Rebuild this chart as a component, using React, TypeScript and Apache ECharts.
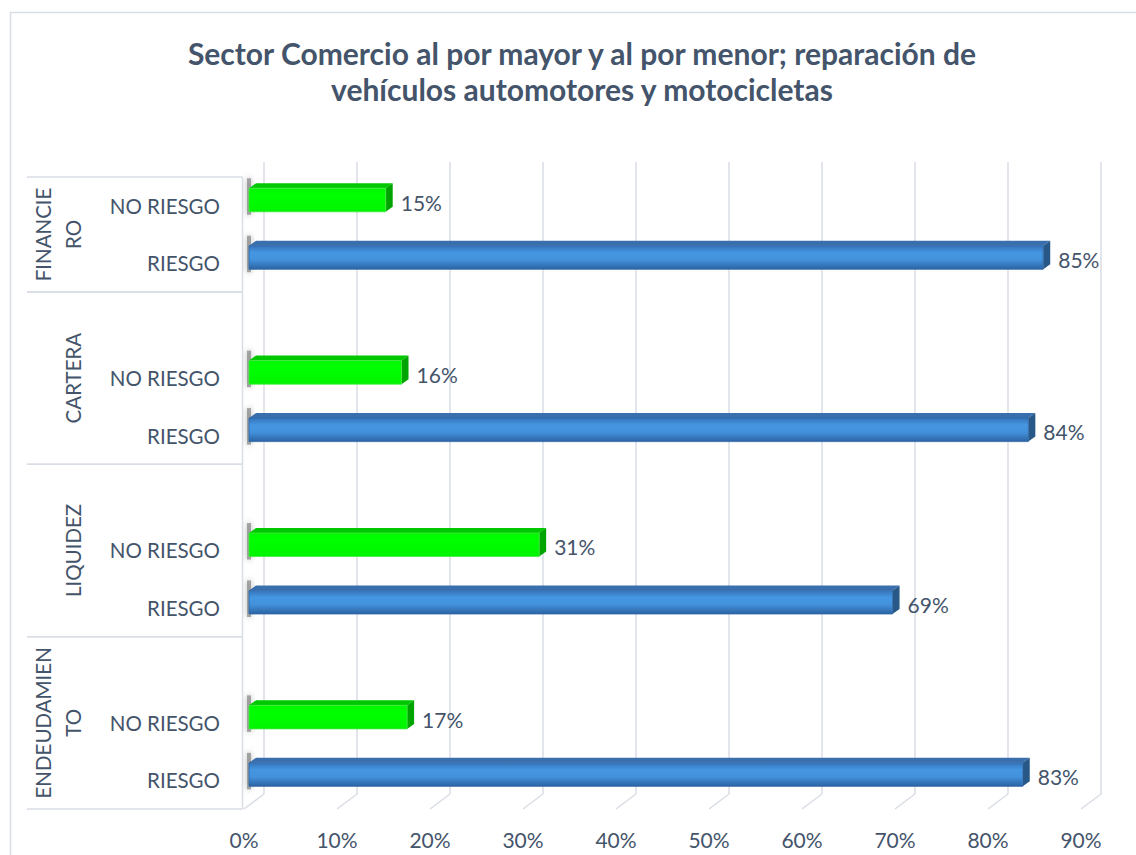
import React, { useEffect, useRef } from "react";
import * as echarts from "echarts";

const titleLines = [
  "Sector Comercio al por mayor y al por menor; reparación de",
  "vehículos automotores y motocicletas",
];
// bottom to top (as in the original category order)
const groupNames = ["ENDEUDAMIENTO", "LIQUIDEZ", "CARTERA", "FINANCIERO"];
const groupLabels = ["ENDEUDAMIEN\nTO", "LIQUIDEZ", "CARTERA", "FINANCIE\nRO"];
const riskLabels = ["RIESGO", "NO RIESGO"];
const riesgoValues = [83.2, 69.2, 83.8, 85.4];
const noRiesgoValues = [17.0, 31.2, 16.4, 14.7];
const xTickValues = [0, 10, 20, 30, 40, 50, 60, 70, 80, 90];

const TEXT = "#44546a";
const GRID = "#d9dde5";
const FONT = "Lato, 'Open Sans', sans-serif";

const categories: string[] = [];
const groupRanges: number[][] = [];
const barData: number[][] = [];
groupNames.forEach((g, gi) => {
  const start = categories.length;
  categories.push(`${g}|${riskLabels[0]}`);
  barData.push([riesgoValues[gi], start, 0]);
  categories.push(`${g}|${riskLabels[1]}`);
  barData.push([noRiesgoValues[gi], start + 1, 1]);
  if (gi < groupNames.length - 1) categories.push(`${g}|`);
  groupRanges.push([gi, start, categories.length - 1]);
});

const DX = 20; // depth of the 3D box
const DY = -15;

export default function App() {
  const ref = useRef<HTMLDivElement>(null);
  useEffect(() => {
    if (!ref.current) return;
    const chart = echarts.init(ref.current, undefined, { renderer: "svg" });

    const blueFront = new echarts.graphic.LinearGradient(0, 0, 0, 1, [
      { offset: 0, color: "#3573b8" },
      { offset: 0.3, color: "#4597e3" },
      { offset: 0.6, color: "#4391db" },
      { offset: 1, color: "#2b63a2" },
    ]);
    const greenFront = new echarts.graphic.LinearGradient(0, 0, 0, 1, [
      { offset: 0, color: "#00f800" },
      { offset: 0.3, color: "#00ff00" },
      { offset: 1, color: "#00f400" },
    ]);
    const palette = [
      { front: blueFront, top: "#3a6fae", side: "#285888", stroke: "#2f66a6" },
      { front: greenFront, top: "#00c800", side: "#00a400", stroke: "#44e844" },
    ];

    chart.setOption({
      animation: false,
      title: {
        text: titleLines.join("\n"),
        left: 577,
        textAlign: "center",
        top: 30,
        textStyle: {
          fontFamily: FONT,
          fontSize: 30,
          fontWeight: "bold",
          color: TEXT,
          lineHeight: 36,
        },
      },
      graphic: [
        {
          type: "rect",
          shape: { x: 10.5, y: 12.5, width: 1200, height: 900 },
          style: { fill: "none", stroke: "#d9dde5", lineWidth: 1.5 },
          silent: true,
        },
      ],
      grid: { left: 244, top: 177, width: 837, height: 632, containLabel: false },
      xAxis: {
        type: "value",
        min: 0,
        max: 90,
        interval: 10,
        axisLine: { show: false },
        axisTick: { show: false },
        splitLine: { show: false },
        axisLabel: {
          formatter: "{value}%",
          fontFamily: FONT,
          fontSize: 21,
          color: TEXT,
          margin: 20,
        },
      },
      yAxis: {
        type: "category",
        data: categories,
        axisLine: { show: false },
        axisTick: { show: false },
        splitLine: { show: false },
        axisLabel: {
          interval: 0,
          formatter: (v: string) => v.split("|")[1],
          fontFamily: FONT,
          fontSize: 20.5,
          color: TEXT,
          margin: 24,
        },
      },
      series: [
        {
          type: "custom",
          name: "grid",
          z: 1,
          silent: true,
          data: xTickValues.map((v) => [v, 0]),
          encode: { x: 0, y: 1 },
          renderItem: (params: any, api: any) => {
            const cs = params.coordSys;
            const x = api.coord([api.value(0), 0])[0];
            const yb = cs.y + cs.height;
            return {
              type: "group",
              children: [
                {
                  type: "line",
                  shape: { x1: x, y1: yb, x2: x + DX, y2: yb + DY },
                  style: { stroke: GRID, lineWidth: 1.5 },
                },
                {
                  type: "line",
                  shape: { x1: x + DX, y1: yb + DY, x2: x + DX, y2: cs.y + DY },
                  style: { stroke: GRID, lineWidth: 1.5 },
                },
              ],
            };
          },
        },
        {
          type: "custom",
          name: "groups",
          z: 2,
          silent: true,
          data: groupRanges,
          encode: { x: -1, y: 1 },
          renderItem: (params: any, api: any) => {
            const gi = api.value(0);
            const s = api.value(1);
            const e = api.value(2);
            const h = api.size([0, 1])[1];
            const yBottom = api.coord([0, s])[1] + h / 2;
            const yTop = api.coord([0, e])[1] - h / 2;
            const xEdge = params.coordSys.x - 1.5;
            const ls = { stroke: GRID, lineWidth: 1.5 };
            return {
              type: "group",
              children: [
                { type: "line", shape: { x1: 27, y1: yTop, x2: xEdge, y2: yTop }, style: ls },
                { type: "line", shape: { x1: 27, y1: yBottom, x2: xEdge, y2: yBottom }, style: ls },
                { type: "line", shape: { x1: xEdge, y1: yTop, x2: xEdge, y2: yBottom }, style: ls },
                {
                  type: "text",
                  x: 88,
                  y: (yTop + yBottom) / 2,
                  rotation: Math.PI / 2,
                  style: {
                    text: groupLabels[gi],
                    fontFamily: FONT,
                    fontSize: 20.5,
                    fill: TEXT,
                    align: "center",
                    verticalAlign: "bottom",
                    lineHeight: 30,
                  },
                },
              ],
            };
          },
        },
        {
          type: "custom",
          name: "bars",
          z: 3,
          data: barData,
          encode: { x: 0, y: 1 },
          renderItem: (params: any, api: any) => {
            const v = api.value(0);
            const c = api.value(1);
            const p = palette[api.value(2)];
            const p0 = api.coord([0, c]);
            const p1 = api.coord([v, c]);
            const slot = api.size([0, 1])[1];
            const fh = slot * 0.41;
            const x0 = p0[0] + 5;
            const x1 = p1[0] + 5;
            const yc = p0[1] - 5.7;
            const yt = yc - fh / 2;
            const yb = yc + fh / 2;
            const dx = 7;
            const dy = -5;
            return {
              type: "group",
              children: [
                {
                  type: "rect",
                  shape: { x: x0 - 2, y: yt + dy - 5, width: 4, height: fh + 13 },
                  style: {
                    fill: "rgba(90,90,90,0.5)",
                    shadowBlur: 6,
                    shadowColor: "rgba(0,0,0,0.6)",
                  },
                },
                {
                  type: "polygon",
                  shape: {
                    points: [
                      [x0, yt],
                      [x1, yt],
                      [x1 + dx, yt + dy],
                      [x0 + dx, yt + dy],
                    ],
                  },
                  style: { fill: p.top },
                },
                {
                  type: "polygon",
                  shape: {
                    points: [
                      [x1, yt],
                      [x1 + dx, yt + dy],
                      [x1 + dx, yb + dy],
                      [x1, yb],
                    ],
                  },
                  style: { fill: p.side },
                },
                {
                  type: "rect",
                  shape: { x: x0, y: yt, width: x1 - x0, height: fh },
                  style: { fill: p.front, stroke: p.stroke, lineWidth: 0.8 },
                },
                {
                  type: "text",
                  x: x1 + 15,
                  y: yc + 2,
                  style: {
                    text: `${Math.round(v)}%`,
                    fontFamily: FONT,
                    fontSize: 21,
                    fill: TEXT,
                    align: "left",
                    verticalAlign: "middle",
                  },
                },
              ],
            };
          },
        },
      ],
    });
    return () => chart.dispose();
  }, []);
  return (
    <div
      ref={ref}
      style={{ position: "absolute", left: 0, top: 0, width: 1136, height: 855, background: "#fff" }}
    />
  );
}
